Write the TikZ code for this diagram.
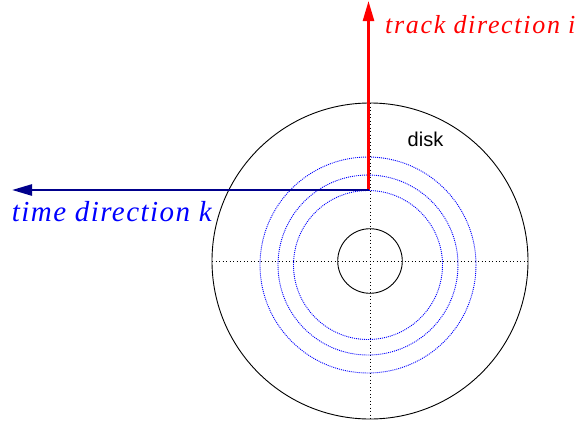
\documentclass[tikz,border=0pt]{standalone}
\usepackage{fontspec}
\setmainfont{Liberation Serif}
\setsansfont{Liberation Sans}
\newfontfamily\trackfont[LetterSpace=6.5]{Liberation Serif}
\newfontfamily\timefont[LetterSpace=5]{Liberation Serif}
\usetikzlibrary{arrows.meta}
\definecolor{navyarrow}{RGB}{0,0,140}
\begin{document}
\begin{tikzpicture}[x=1pt,y=-1pt,
  diskline/.style={black, line width=0.9pt},
  dotline/.style={black, line width=0.9pt, dash pattern=on 1pt off 2.5pt},
  trackline/.style={blue, line width=0.9pt, dash pattern=on 1pt off 1pt},
  dirarrow/.style={line width=2.5pt, -{Triangle[length=20pt,width=11pt]}},
  lbl/.style={inner sep=0pt, anchor=base west}]
\useasboundingbox (0,0) rectangle (581,426);
\fill[white] (0,0) rectangle (581,426);
% centres
\coordinate (c) at (370,261);
\coordinate (b) at (368,265);
% disk outline
\draw[diskline] (c) circle[radius=158];
\draw[diskline] (c) circle[radius=32.3];
% centre axes
\coordinate (hl) at (212,261);
\coordinate (hr) at (528,261);
\coordinate (vt) at (370,103);
\coordinate (vb) at (370,419);
\draw[dotline] (hl) -- (hr);
\draw[dotline] (vt) -- (vb);
% tracks
\draw[trackline] (b) circle[radius=108];
\draw[trackline] (b) circle[radius=90];
\draw[trackline] (b) circle[radius=74.5];
% direction arrows
\coordinate (o) at (368.5,190);
\coordinate (ti) at (368.5,1);
\coordinate (tk) at (12,190);
\draw[dirarrow, red] (o) -- (ti);
\draw[dirarrow, navyarrow] (o) -- (tk);
% labels
\node[lbl, text=red, font=\trackfont\itshape\fontsize{26}{31}\selectfont] (trk) at (385,33.3) {track direction i};
\node[lbl, text=blue, font=\timefont\itshape\fontsize{29}{34}\selectfont] (tim) at (11.7,221.7) {time direction k};
\node[lbl, font=\sffamily\fontsize{20}{24}\selectfont] (dsk) at (407.5,146.7) {disk};
\end{tikzpicture}
\end{document}
